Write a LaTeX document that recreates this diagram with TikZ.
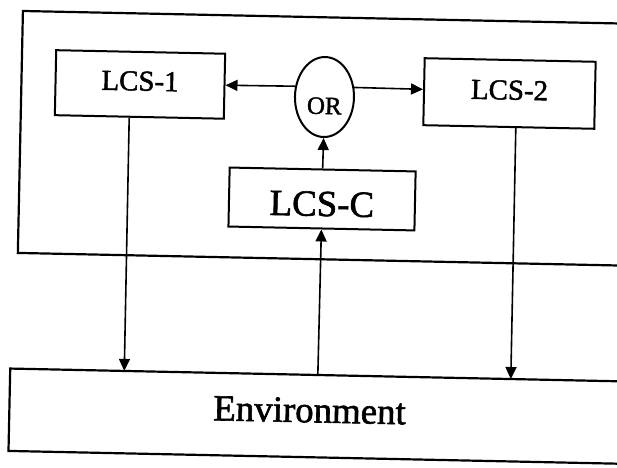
\documentclass[tikz,border=0pt]{standalone}
\usepackage{fontspec}
\setmainfont{Liberation Serif}[BoldFont=Liberation Serif, BoldFeatures={FakeBold=1.6}]
\usetikzlibrary{shapes.geometric,arrows.meta,calc}
\begin{document}
\begin{tikzpicture}[x=1bp,y=-1bp,
  box/.style={draw, line width=2bp, rectangle, inner sep=0pt, transform shape},
  arr/.style={line width=1.6bp, -{Triangle[length=12bp,width=11bp]}},
  frame/.style={line width=2.2bp}]
\useasboundingbox (0,0) rectangle (617,468);
\clip (0,0) rectangle (617,468);
\fill[white] (0,0) rectangle (617,468);
\begin{scope}[rotate around={-1.2:(308,234)}]
\draw[frame] (720,17) -- (18.3,17) -- (18.3,259) -- (720,259);
\node[box, minimum width=169bp, minimum height=65bp, text height=19.2bp, text depth=7bp,
  font=\fontsize{29}{29}\selectfont\bfseries] (lcs1) at (136.9,88) {LCS-1};
\node[box, minimum width=171bp, minimum height=67bp, text height=19.2bp, text depth=7bp,
  font=\fontsize{29}{29}\selectfont\bfseries] (lcs2) at (506.5,89.3) {LCS-2};
\node[box, minimum width=186bp, minimum height=59bp, text height=34bp, text depth=0bp,
  font=\fontsize{37}{37}\selectfont\bfseries] (lcsc) at (321.3,198.7) {LCS-C};
\node[draw, ellipse, line width=2bp, inner sep=0pt, minimum width=59bp, minimum height=80bp,
  transform shape, text height=34bp, text depth=0bp,
  font=\fontsize{25}{25}\selectfont\bfseries] (or) at (321.6,96.7) {OR};
\node[inner sep=0pt, minimum width=600bp, minimum height=82bp, transform shape,
  text height=24.5bp, text depth=12bp,
  font=\fontsize{37}{37}\selectfont\bfseries] (env) at (313.3,416) {Environment};
\draw[frame] ($(env.north west)!1.2!(env.north east)$) -- (env.north west)
  -- (env.south west) -- ($(env.south west)!1.2!(env.south east)$);
\draw[arr] (or.161) -- ($(lcs1.north east)!0.485!(lcs1.south east)$);
\draw[arr] (or.19) -- ($(lcs2.north west)!0.466!(lcs2.south west)$);
\draw[arr] (lcsc.north) -- (or.south);
\draw[arr] ($(env.north west)!0.5125!(env.north east)$) -- (lcsc.south);
\draw[arr] ($(lcs1.south west)!0.441!(lcs1.south east)$) -- ($(env.north west)!0.19!(env.north east)$);
\draw[arr] ($(lcs2.south west)!0.541!(lcs2.south east)$) -- ($(env.north west)!0.834!(env.north east)$);
\end{scope}
\end{tikzpicture}
\end{document}
